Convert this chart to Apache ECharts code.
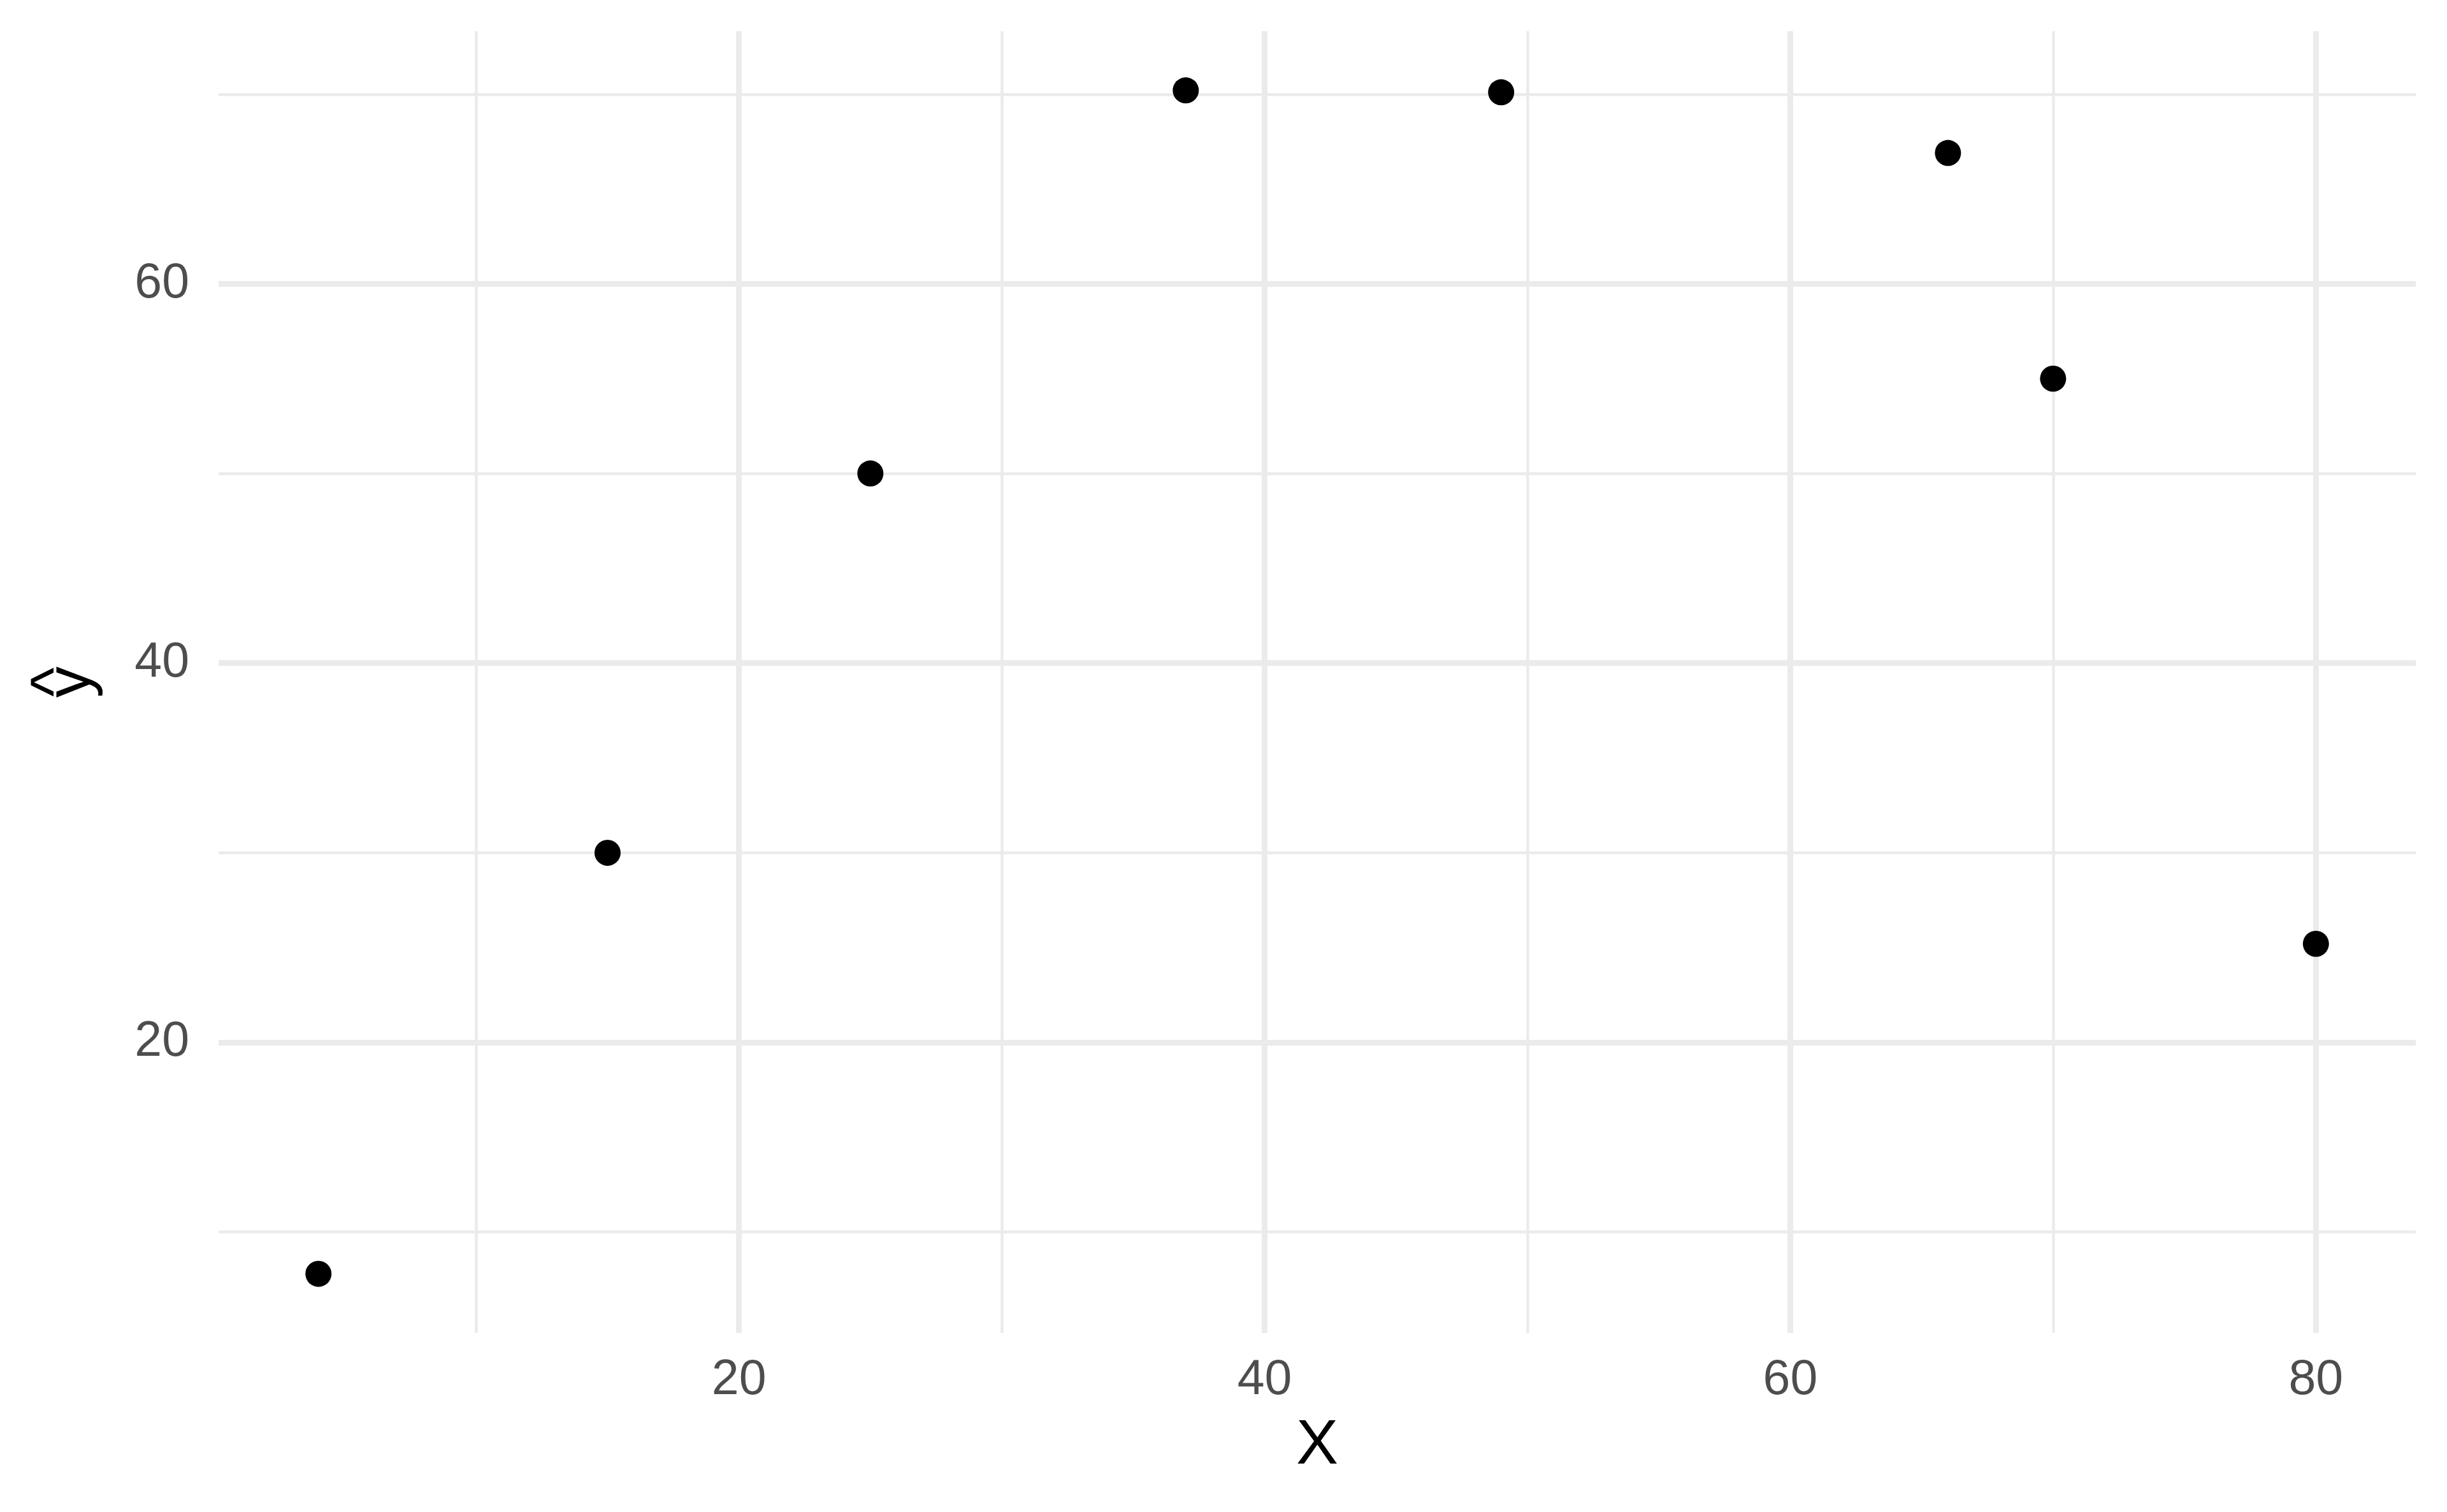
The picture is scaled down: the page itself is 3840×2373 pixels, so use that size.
<!DOCTYPE html>
<html><head><meta charset="utf-8">
<script src="https://cdn.jsdelivr.net/npm/echarts@6/dist/echarts.min.js"></script>
<style>html,body{margin:0;padding:0;background:#fff}#c{width:3840px;height:2373px}</style>
</head><body><div id="c"></div>
<script>
// data
const xValues = [4, 15, 25, 37, 49, 66, 70, 80];
const yValues = [7.8, 30, 50, 70.2, 70.1, 66.9, 55, 25.2];
// tick positions
const xMajorTicks = [20, 40, 60, 80];
const xMinorTicks = [10, 30, 50, 70];
const yMajorTicks = [20, 40, 60];
const yMinorTicks = [10, 30, 50, 70];
// titles
const xTitle = 'X';
const yHat = '^';
const yTitle = 'y';

const FONT = '"Liberation Sans", Arial, Helvetica, sans-serif';
const GRID = '#EBEBEB';
const points = xValues.map((x, i) => [x, yValues[i]]);

function expand(vals) {
  const mn = Math.min(...vals), mx = Math.max(...vals), r = mx - mn;
  return [mn - 0.05 * r, mx + 0.05 * r];
}
const [xMin, xMax] = expand(xValues);
const [yMin, yMax] = expand(yValues);

const chart = echarts.init(document.getElementById('c'), null, {renderer: 'canvas'});
chart.setOption({
  backgroundColor: '#ffffff',
  animation: false,
  grid: {left: 343, right: 49, top: 49, bottom: 281, containLabel: false, outerBoundsMode: 'none'},
  xAxis: [
    {
      type: 'value', min: xMin, max: xMax, position: 'bottom',
      name: xTitle, nameLocation: 'middle', nameGap: 128,
      nameTextStyle: {fontFamily: FONT, fontSize: 99, color: '#000000'},
      axisLine: {show: false},
      axisTick: {show: false, customValues: xMajorTicks},
      axisLabel: {customValues: xMajorTicks, fontFamily: FONT, fontSize: 77, color: '#4D4D4D', margin: 36},
      splitLine: {show: true, lineStyle: {color: GRID, width: 9}}
    },
    {
      type: 'value', min: xMin, max: xMax, position: 'top',
      axisLine: {show: false},
      axisTick: {show: false, customValues: xMinorTicks},
      axisLabel: {show: false, customValues: xMinorTicks},
      splitLine: {show: true, lineStyle: {color: GRID, width: 4.5}}
    }
  ],
  yAxis: [
    {
      type: 'value', min: yMin, max: yMax, position: 'left',
      name: '{h|' + yHat + '}\n{y|' + yTitle + '}', nameLocation: 'middle', nameGap: 214, nameRotate: 90,
      nameTextStyle: {
        fontFamily: FONT, fontSize: 98, color: '#000000',
        rich: {
          h: {fontFamily: FONT, fontSize: 98, lineHeight: 20, color: '#000000'},
          y: {fontFamily: FONT, fontSize: 98, lineHeight: 30, color: '#000000'}
        }
      },
      axisLine: {show: false},
      axisTick: {show: false, customValues: yMajorTicks},
      axisLabel: {customValues: yMajorTicks, fontFamily: FONT, fontSize: 77, color: '#4D4D4D', margin: 46},
      splitLine: {show: true, lineStyle: {color: GRID, width: 9}}
    },
    {
      type: 'value', min: yMin, max: yMax, position: 'right',
      axisLine: {show: false},
      axisTick: {show: false, customValues: yMinorTicks},
      axisLabel: {show: false, customValues: yMinorTicks},
      splitLine: {show: true, lineStyle: {color: GRID, width: 4.5}}
    }
  ],
  series: [{
    type: 'scatter', xAxisIndex: 0, yAxisIndex: 0,
    data: points, symbol: 'circle', symbolSize: 41,
    itemStyle: {color: '#000000', opacity: 1},
    z: 10
  }]
});
</script></body></html>
